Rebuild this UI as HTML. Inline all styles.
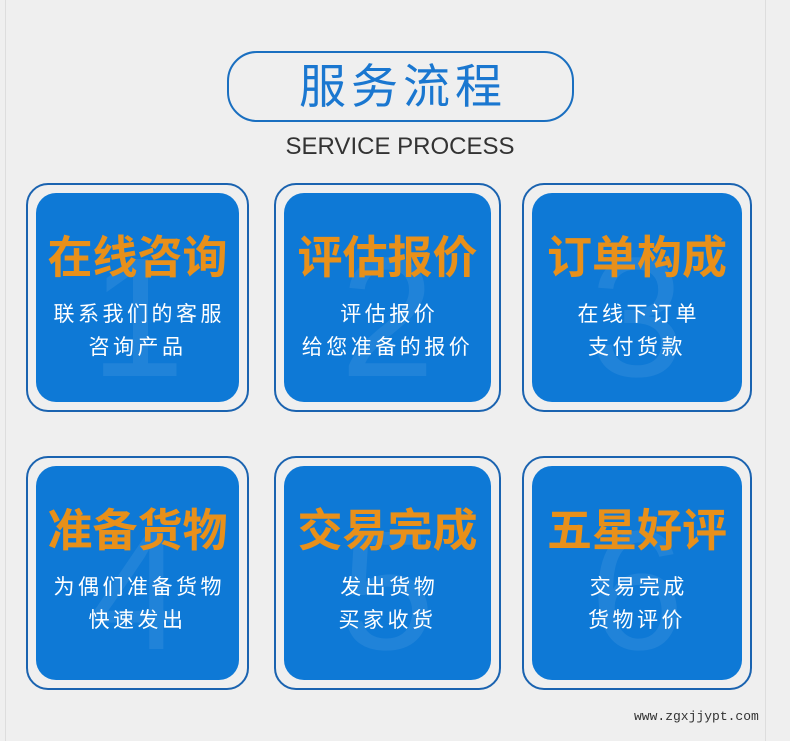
<!DOCTYPE html>
<html><head><meta charset="utf-8"><style>
body{margin:0;width:790px;height:741px;background:#efefef;position:relative;overflow:hidden;font-family:"Liberation Sans","Noto Sans CJK SC",sans-serif}
.vl{position:absolute;top:0;width:1px;height:741px;background:#ddd}
.title{position:absolute;left:227px;top:51px;width:343px;height:67px;border:2px solid #1a6fc0;border-radius:30px;text-align:center;line-height:67px;font-size:47px;color:#1a77d0;letter-spacing:5px;text-indent:5px}
.sub{position:absolute;left:0;width:800px;top:133px;text-align:center;font-size:24px;color:#333}
.card{position:absolute;border:2px solid #1a63b0;border-radius:22px;box-sizing:border-box}
.in{position:absolute;left:8px;top:8px;right:8px;bottom:8px;background:#0e79d6;border-radius:20px;text-align:center;overflow:hidden}
.n{position:absolute;left:0;right:0;top:40px;font-size:170px;color:rgba(255,255,255,0.08);line-height:170px}
.h{position:absolute;left:-20px;right:-20px;top:38px;font-size:45px;font-weight:bold;color:#e8901a;line-height:54px}
.t{position:absolute;left:-20px;right:-20px;top:105px;font-size:21px;color:#fff;line-height:33px;letter-spacing:3.5px;text-indent:3.5px}
.url{position:absolute;left:634px;top:709px;font-family:"Liberation Mono",monospace;font-size:13px;color:#333}
</style></head><body>
<div class="vl" style="left:5px"></div><div class="vl" style="left:765px"></div>
<div class="title">服务流程</div>
<div class="sub">SERVICE PROCESS</div>
<div class="card" style="left:26px;top:183px;width:223px;height:229px"><div class="in"><div class="n">1</div><div class="h">在线咨询</div><div class="t">联系我们的客服<br>咨询产品</div></div></div>
<div class="card" style="left:274px;top:183px;width:227px;height:229px"><div class="in"><div class="n">2</div><div class="h">评估报价</div><div class="t">评估报价<br>给您准备的报价</div></div></div>
<div class="card" style="left:522px;top:183px;width:230px;height:229px"><div class="in"><div class="n">3</div><div class="h">订单构成</div><div class="t">在线下订单<br>支付货款</div></div></div>
<div class="card" style="left:26px;top:456px;width:223px;height:234px"><div class="in"><div class="n">4</div><div class="h">准备货物</div><div class="t">为偶们准备货物<br>快速发出</div></div></div>
<div class="card" style="left:274px;top:456px;width:227px;height:234px"><div class="in"><div class="n">5</div><div class="h">交易完成</div><div class="t">发出货物<br>买家收货</div></div></div>
<div class="card" style="left:522px;top:456px;width:230px;height:234px"><div class="in"><div class="n">6</div><div class="h">五星好评</div><div class="t">交易完成<br>货物评价</div></div></div>
<div class="url">www.zgxjjypt.com</div>
</body></html>
